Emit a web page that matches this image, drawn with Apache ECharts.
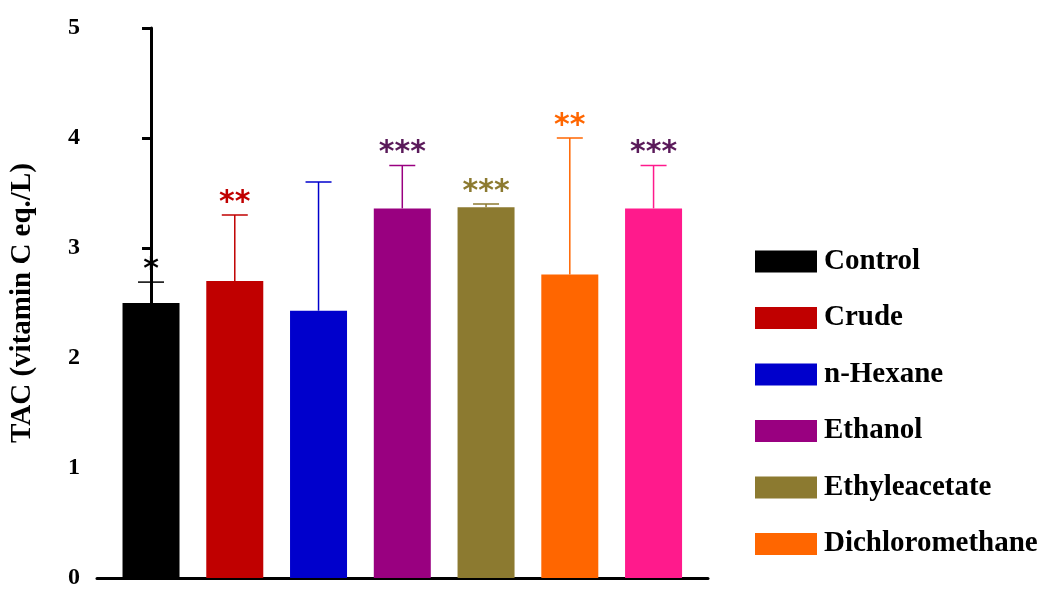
<!DOCTYPE html>
<html>
<head>
<meta charset="utf-8">
<script src="https://cdn.jsdelivr.net/npm/echarts@6/dist/echarts.min.js"></script>
<style>html,body{margin:0;padding:0;background:#fff}#c{width:1064px;height:601px}</style>
</head>
<body>
<div id="c"></div>
<script>
const categories = ['Control', 'Crude', 'n-Hexane', 'Ethanol', 'Ethyleacetate', 'Dichloromethane', 'Methanol'];
const means = [2.5, 2.7, 2.43, 3.36, 3.37, 2.76, 3.36];
const errUpper = [2.69, 3.3, 3.6, 3.75, 3.4, 4.0, 3.75];
const stars = ['*', '**', '', '***', '***', '**', '***'];
const colors = ['#000000', '#c00000', '#0000cc', '#990080', '#8c7a30', '#ff6600', '#ff1a8c'];
const starColors = ['#000000', '#c00000', '#000000', '#5a1a5a', '#8c7a30', '#ff6600', '#5a1a5a'];

const font = 'Liberation Serif';
const chart = echarts.init(document.getElementById('c'));

// one series per group so each gets its own legend entry
const barSeries = categories.map((name, i) => ({
    name: name,
    type: 'bar',
    barWidth: 57,
    barGap: '-100%',
    itemStyle: {color: colors[i]},
    data: [[i, means[i]]]
}));

const errSeries = {
    type: 'custom',
    silent: true,
    data: categories.map((c, i) => [i, means[i], errUpper[i]]),
    renderItem: (params, api) => {
        const i = api.value(0);
        const base = api.coord([i, api.value(1)]);
        const top = api.coord([i, api.value(2)]);
        const col = colors[i];
        const children = [
            {type: 'line', shape: {x1: base[0], y1: base[1], x2: top[0], y2: top[1]}, style: {stroke: col, lineWidth: 1.5}},
            {type: 'line', shape: {x1: top[0] - 13, y1: top[1], x2: top[0] + 13, y2: top[1]}, style: {stroke: col, lineWidth: 1.5}}
        ];
        if (stars[i]) {
            children.push({type: 'text', x: top[0], y: top[1] - 12, style: {
                text: stars[i], fill: starColors[i], font: 'bold 30px DejaVu Sans', align: 'center', verticalAlign: 'middle'}});
        }
        return {type: 'group', children: children};
    }
};

chart.setOption({
    animation: false,
    grid: {left: 97, right: 356, top: 28, bottom: 23},
    legend: {
        orient: 'vertical', left: 750, top: 242,
        itemWidth: 62, itemHeight: 22, itemGap: 27.5,
        icon: 'rect',
        data: categories,
        textStyle: {fontFamily: font, fontWeight: 'bold', fontSize: 29, lineHeight: 22, color: '#000', padding: [0, 0, 0, 2]}
    },
    xAxis: {
        type: 'value', min: -0.645, max: 6.65,
        axisLine: {show: true, lineStyle: {color: '#000', width: 3}},
        axisTick: {show: false}, axisLabel: {show: false}, splitLine: {show: false}
    },
    yAxis: {
        type: 'value', min: 0, max: 5, interval: 1,
        name: 'TAC (vitamin C eq./L)', nameLocation: 'middle', nameGap: 60,
        nameTextStyle: {fontFamily: font, fontWeight: 'bold', fontSize: 29, color: '#000'},
        axisLine: {show: true, lineStyle: {color: '#000', width: 3}},
        axisTick: {show: true, length: 9, lineStyle: {width: 3}},
        axisLabel: {fontFamily: font, fontWeight: 'bold', fontSize: 24, color: '#000', margin: 17},
        splitLine: {show: false}
    },
    series: [...barSeries, errSeries]
});
</script>
</body>
</html>
